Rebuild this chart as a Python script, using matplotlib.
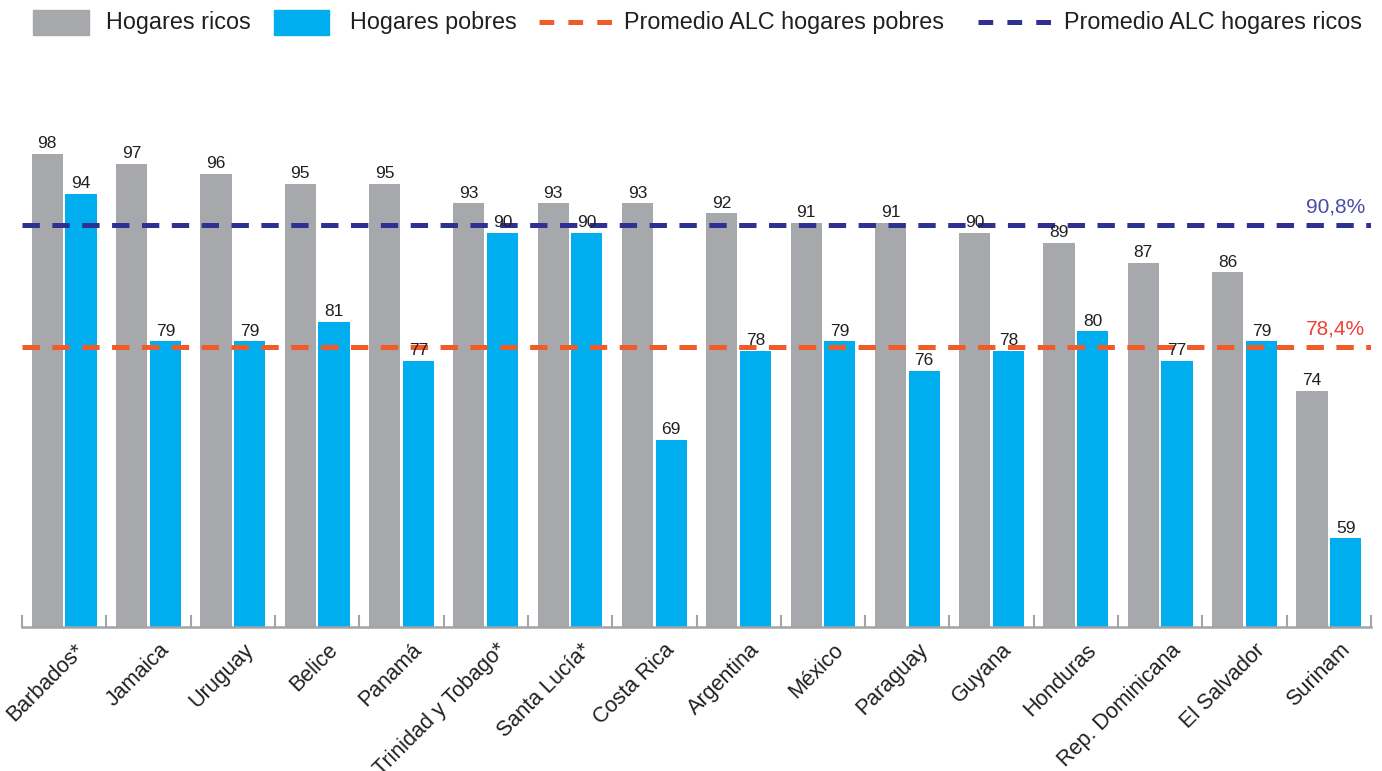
import matplotlib
matplotlib.use('Agg')
import matplotlib.pyplot as plt
from matplotlib.patches import Rectangle
from matplotlib.lines import Line2D
from matplotlib.transforms import ScaledTranslation
import numpy as np

plt.rcParams['font.family'] = ['Liberation Sans', 'DejaVu Sans']
plt.rcParams['lines.scale_dashes'] = False

countries = ['Barbados*', 'Jamaica', 'Uruguay', 'Belice', 'Panamá',
             'Trinidad y Tobago*', 'Santa Lucía*', 'Costa Rica', 'Argentina',
             'México', 'Paraguay', 'Guyana', 'Honduras', 'Rep. Dominicana',
             'El Salvador', 'Surinam']
ricos = [98, 97, 96, 95, 95, 93, 93, 93, 92, 91, 91, 90, 89, 87, 86, 74]
pobres = [94, 79, 79, 81, 77, 90, 90, 69, 78, 79, 76, 78, 80, 77, 79, 59]
prom_ricos = 90.8
prom_pobres = 78.4

GRAY = '#a7a8ab'
BLUE = '#00aeef'
ORANGE = '#f15a29'
NAVY = '#2e3192'
TXT = '#231f20'

W, H = 1382, 771
fig = plt.figure(figsize=(W / 100, H / 100), dpi=100)
ax = fig.add_axes([22 / W, 1 - 627 / H, (1371 - 22) / W, (627 - 60) / H])

x = np.arange(len(countries))
bw = 0.37
b1 = ax.bar(x - 0.2, ricos, bw, color=GRAY)
b2 = ax.bar(x + 0.2, pobres, bw, color=BLUE)
for bars, vals in ((b1, ricos), (b2, pobres)):
    for r, v in zip(bars, vals):
        ax.annotate(str(v), (r.get_x() + r.get_width() / 2, v),
                    xytext=(0, 2), textcoords='offset points',
                    ha='center', va='bottom', fontsize=12.5, color=TXT)

dash = (12.5, 9)
ax.plot([-0.5, 15.5], [prom_ricos] * 2, color=NAVY, lw=3.6, dashes=dash)
ax.plot([-0.5, 15.5], [prom_pobres] * 2, color=ORANGE, lw=3.6, dashes=dash)
ax.annotate(f'{prom_ricos:.1f}%'.replace('.', ','), (15.43, prom_ricos),
            xytext=(0, 6), textcoords='offset points', ha='right', va='bottom',
            fontsize=15, color='#4a4ca6')
ax.annotate(f'{prom_pobres:.1f}%'.replace('.', ','), (15.43, prom_pobres),
            xytext=(0, 6), textcoords='offset points', ha='right', va='bottom',
            fontsize=15, color='#ee4136')

ax.set_xlim(-0.5, 15.5)
ax.set_ylim(50, 50 + (627 - 60) / 9.85)
for s in ('top', 'right', 'left'):
    ax.spines[s].set_visible(False)
ax.spines['bottom'].set_color('#a3a4a7')
ax.spines['bottom'].set_linewidth(1.8)
ax.set_yticks([])

ax.set_xticks(x)
ax.set_xticklabels(countries, rotation=45, ha='right', rotation_mode='anchor',
                   fontsize=15.5, color=TXT)
ax.tick_params(axis='x', which='major', length=0, pad=9)
ax.set_xticks(np.arange(-0.5, 16, 1), minor=True)
ax.tick_params(axis='x', which='minor', direction='in', length=9,
               width=1.5, color='#a3a4a7')
off = ScaledTranslation(10 / 100, 0, fig.dpi_scale_trans)
for lab in ax.get_xticklabels():
    lab.set_transform(lab.get_transform() + off)

# leyenda superior
def fx(px):
    return px / W

def fy(py):
    return 1 - py / H

fig.add_artist(Rectangle((fx(33), fy(35)), fx(56), 25 / H, color=GRAY,
                         transform=fig.transFigure))
fig.add_artist(Rectangle((fx(274), fy(35)), fx(55), 25 / H, color=BLUE,
                         transform=fig.transFigure))
fig.add_artist(Line2D([fx(539), fx(612)], [fy(22)] * 2, color=ORANGE, lw=3.6,
                      dashes=(10.6, 10.2), transform=fig.transFigure))
fig.add_artist(Line2D([fx(978), fx(1053)], [fy(22)] * 2, color=NAVY, lw=3.6,
                      dashes=(10.6, 10.2), transform=fig.transFigure))
for px_, label in ((106, 'Hogares ricos'), (350, 'Hogares pobres'),
                   (624, 'Promedio ALC hogares pobres'),
                   (1064, 'Promedio ALC hogares ricos')):
    fig.text(fx(px_), fy(22), label, ha='left', va='center', fontsize=16.8,
             color=TXT)

fig.savefig('out.png', dpi=100)
